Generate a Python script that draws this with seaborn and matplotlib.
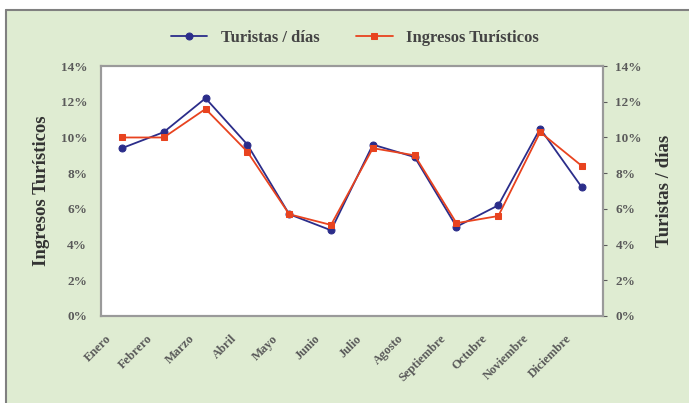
import matplotlib
matplotlib.use("Agg")
import matplotlib.pyplot as plt
import matplotlib.transforms as mtransforms
import seaborn as sns
import pandas as pd
from matplotlib.ticker import PercentFormatter

# Monthly share of tourists / days and tourism income (%)
meses = ['Enero', 'Febrero', 'Marzo', 'Abril', 'Mayo', 'Junio', 'Julio',
         'Agosto', 'Septiembre', 'Octubre', 'Noviembre', 'Diciembre']
turistas_dias = [9.4, 10.3, 12.2, 9.6, 5.7, 4.8, 9.6, 8.9, 5.0, 6.2, 10.5, 7.2]
ingresos = [10.0, 10.0, 11.6, 9.2, 5.7, 5.1, 9.4, 9.0, 5.2, 5.6, 10.3, 8.4]

azul = '#2b2d8a'
rojo = '#e8431f'
fondo = '#dfecd2'
gris = '#5a5a5a'

sns.set_style('white')
plt.rcParams['font.family'] = ['Liberation Serif', 'DejaVu Serif']
plt.rcParams['font.weight'] = 'bold'

df = pd.DataFrame({'x': range(len(meses)), 'turistas': turistas_dias, 'ingresos': ingresos})

fig = plt.figure(figsize=(6.89, 4.03), dpi=100, facecolor='white')

# green panel with grey top/left edge
fig.patches.append(plt.Rectangle((6 / 689, 0), 1, 1 - 10 / 403, transform=fig.transFigure,
                                 facecolor=fondo, edgecolor='none', zorder=-2))
fig.lines.append(plt.Line2D([6 / 689, 1], [1 - 10 / 403] * 2, transform=fig.transFigure,
                            color='#808080', lw=1.5))
fig.lines.append(plt.Line2D([6 / 689] * 2, [0, 1 - 10 / 403], transform=fig.transFigure,
                            color='#808080', lw=1.5))

ax = fig.add_axes([0.1466, 0.216, 0.7284, 0.62])
ax2 = ax.twinx()

sns.lineplot(data=df, x='x', y='ingresos', ax=ax, color=rojo, marker='s',
             markersize=5, markeredgecolor=rojo, lw=1.3, label='Ingresos Turísticos', legend=False)
sns.lineplot(data=df, x='x', y='turistas', ax=ax2, color=azul, marker='o',
             markersize=5, markeredgecolor=azul, lw=1.3, label='Turistas / días', legend=False)
ax.set_zorder(ax2.get_zorder() + 1)
ax.patch.set_visible(False)
ax2.patch.set_facecolor('white')
ax2.patch.set_visible(True)

for a in (ax, ax2):
    a.set_ylim(0, 14)
    a.set_xlim(-0.5, 11.5)
    a.set_yticks(range(0, 15, 2))
    a.yaxis.set_major_formatter(PercentFormatter(decimals=0))
    for s in a.spines.values():
        s.set_color('#9a9a9a')
        s.set_linewidth(1.5)

ax.tick_params(axis='x', length=0, pad=12)
ax.tick_params(axis='y', length=0, labelsize=9.5, colors=gris, pad=10)
ax2.tick_params(axis='y', length=3, labelsize=9.5, colors=gris, direction='out', pad=6)

ax.set_xticks(range(len(meses)))
ax.set_xticklabels(meses, rotation=45, ha='right', va='top', rotation_mode='anchor',
                   fontsize=9, color=gris)
# nudge the month labels left, like the original
shift = mtransforms.ScaledTranslation(-0.17, 0, fig.dpi_scale_trans)
for lab in ax.get_xticklabels():
    lab.set_transform(lab.get_transform() + shift)

ax.set_xlabel('')
ax.set_ylabel('Ingresos Turísticos', fontsize=13.5, fontweight='bold', color='#333333', labelpad=8)
ax2.set_ylabel('Turistas / días', fontsize=13.5, fontweight='bold', color='#333333', labelpad=10)

h1, l1 = ax2.get_legend_handles_labels()
h2, l2 = ax.get_legend_handles_labels()
fig.legend(h1 + h2, l1 + l2, loc='center', bbox_to_anchor=(0.515, 0.905), ncol=2,
           frameon=False, fontsize=12, handlelength=2.2, columnspacing=2.2,
           labelcolor='#444444')

fig.savefig('out.png', dpi=100, facecolor='white')
